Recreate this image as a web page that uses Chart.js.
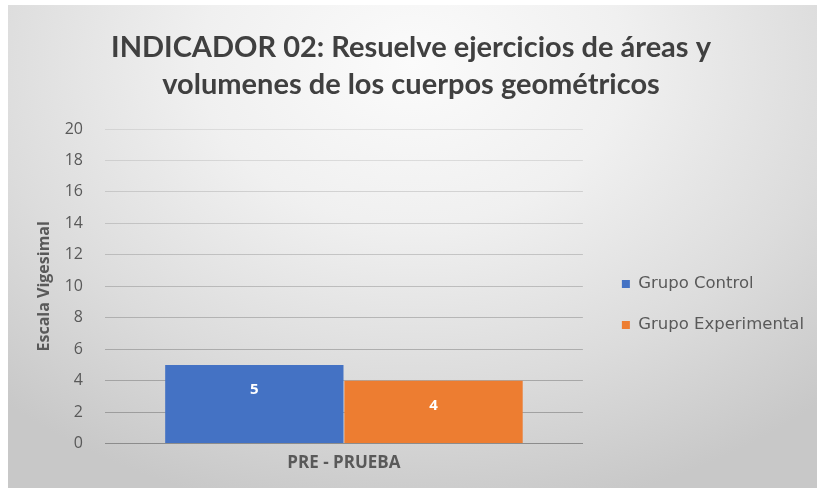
<!DOCTYPE html>
<html>
<head>
<meta charset="utf-8">
<script src="https://cdn.jsdelivr.net/npm/chart.js@4/dist/chart.umd.min.js"></script>
<style>
  html, body { margin: 0; padding: 0; background: #ffffff; }
  #wrap {
    position: absolute; left: 8px; top: 5px; width: 809px; height: 483px;
    background: radial-gradient(ellipse 75% 95% at 50% 12%, #fbfbfb 0%, #f0f0f0 35%, #dcdcdc 70%, #c8c8c8 100%);
  }
  canvas { display: block; }
</style>
</head>
<body>
<div id="wrap"><canvas id="c" width="809" height="483"></canvas></div>
<script>
const categories = ["PRE - PRUEBA"];
const seriesNames = ["Grupo Control", "Grupo Experimental"];
const grupoControl = [5];
const grupoExperimental = [4];
const yTicks = [0, 2, 4, 6, 8, 10, 12, 14, 16, 18, 20];
const titleLines = ["INDICADOR 02: Resuelve ejercicios de áreas y", "volumenes de los cuerpos geométricos"];
const yAxisTitle = "Escala Vigesimal";

const LEGEND_EXTRA = 14.5;
const LEGEND_DOWN = 61;
const legendShift = {
  id: 'legendShift',
  afterInit(chart) {
    const lg = chart.legend;
    if (!lg) return;
    const f = lg.fit.bind(lg);
    lg.fit = function () { f(); this.width += LEGEND_EXTRA; };
  },
  afterLayout(chart) {
    const lg = chart.legend;
    if (lg) {
      lg.left += LEGEND_EXTRA;
      lg.top += LEGEND_DOWN;
      lg.bottom += LEGEND_DOWN;
    }
  }
};

const barLabels = {
  id: 'barLabels',
  afterDatasetsDraw(chart) {
    const ctx = chart.ctx;
    ctx.save();
    ctx.fillStyle = '#ffffff';
    ctx.font = 'bold 15px "Open Sans"';
    ctx.textAlign = 'center';
    ctx.textBaseline = 'middle';
    chart.data.datasets.forEach((ds, i) => {
      chart.getDatasetMeta(i).data.forEach((el, j) => {
        ctx.fillText(String(ds.data[j]), el.x, el.y + 25);
      });
    });
    ctx.restore();
  }
};

new Chart(document.getElementById('c'), {
  type: 'bar',
  data: {
    labels: categories,
    datasets: [
      { label: seriesNames[0], data: grupoControl, backgroundColor: '#4472C4', borderWidth: 0 },
      { label: seriesNames[1], data: grupoExperimental, backgroundColor: '#ED7D31', borderWidth: 0 }
    ]
  },
  options: {
    responsive: false,
    animation: false,
    layout: { padding: { left: 0, right: 3, top: 0, bottom: 6 } },
    datasets: { bar: { barPercentage: 0.995, categoryPercentage: 0.75 } },
    plugins: {
      title: {
        display: true,
        text: titleLines,
        color: '#404040',
        font: { family: 'Lato', size: 29, weight: 'bold', lineHeight: 1.276 },
        padding: { top: 24, bottom: 26 }
      },
      legend: {
        display: true,
        position: 'right',
        maxWidth: 300,
        labels: {
          color: '#595959',
          font: { family: '"DejaVu Sans"', size: 16.5 },
          boxWidth: 8, boxHeight: 8,
          padding: 24.5
        }
      },
      tooltip: { enabled: false }
    },
    scales: {
      x: {
        grid: { display: false, drawTicks: false },
        border: { display: true, color: '#8c8c8c', width: 1 },
        ticks: { color: '#595959', font: { family: '"Open Sans"', size: 17, weight: 'bold' }, padding: 9 }
      },
      y: {
        min: 0, max: 20,
        afterFit(scale) { scale.width = 97; },
        afterBuildTicks(scale) { scale.ticks = yTicks.map(v => ({ value: v })); },
        grid: {
          drawTicks: false,
          color(ctx) {
            const v = ctx.tick ? ctx.tick.value : 0;
            const a = 0.55 - 0.4 * (v / 20);
            return 'rgba(110,110,110,' + a.toFixed(3) + ')';
          },
          lineWidth: 1
        },
        border: { display: false },
        ticks: { color: '#595959', font: { family: '"Open Sans"', size: 16 }, padding: 22 },
        title: {
          display: true,
          text: yAxisTitle,
          color: '#595959',
          font: { family: '"Open Sans"', size: 16, weight: 'bold' },
          padding: { top: 27, bottom: 0 }
        }
      }
    }
  },
  plugins: [legendShift, barLabels]
});
</script>
</body>
</html>
